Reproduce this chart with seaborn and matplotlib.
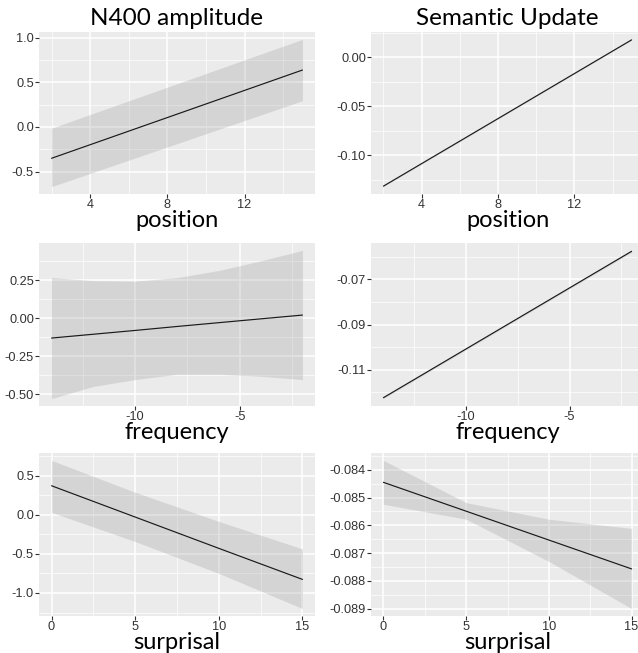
import matplotlib
matplotlib.use("Agg")
import matplotlib.pyplot as plt
from matplotlib.ticker import AutoMinorLocator
import seaborn as sns

# Effect estimates: x, fit, lower, upper per panel.
# N400 amplitude
n400_pos_x = [2, 15]
n400_pos_fit = [-0.35, 0.637]
n400_pos_lo = [-0.667, 0.294]
n400_pos_hi = [-0.013, 0.98]

n400_freq_x = [-14, -12, -10, -8, -6, -4, -2]
n400_freq_fit = [-0.129, -0.104, -0.079, -0.053, -0.028, -0.003, 0.022]
n400_freq_lo = [-0.527, -0.447, -0.402, -0.367, -0.367, -0.380, -0.402]
n400_freq_hi = [0.269, 0.248, 0.245, 0.268, 0.315, 0.378, 0.447]

n400_surp_x = [0, 5, 10, 15]
n400_surp_fit = [0.37, -0.03, -0.43, -0.827]
n400_surp_lo = [0.030, -0.343, -0.75, -1.20]
n400_surp_hi = [0.694, 0.287, -0.086, -0.437]

# Semantic Update
sem_pos_x = [2, 15]
sem_pos_fit = [-0.1312, 0.0176]
sem_pos_lo = [-0.1317, 0.0171]
sem_pos_hi = [-0.1307, 0.0181]

sem_freq_x = [-14, -2]
sem_freq_fit = [-0.1223, -0.0577]
sem_freq_lo = [-0.1227, -0.0581]
sem_freq_hi = [-0.1219, -0.0573]

sem_surp_x = [0, 5, 10, 15]
sem_surp_fit = [-0.08445, -0.08549, -0.08653, -0.08757]
sem_surp_lo = [-0.08524, -0.08578, -0.08730, -0.08900]
sem_surp_hi = [-0.08366, -0.08518, -0.08578, -0.08611]

# Tick positions and labels
pos_ticks = [4, 8, 12]
freq_ticks = [-10, -5]
surp_ticks = [0, 5, 10, 15]
n400_yticks = [[-0.5, 0.0, 0.5, 1.0], [-0.5, -0.25, 0.0, 0.25], [-1.0, -0.5, 0.0, 0.5]]
n400_ylabels = [["-0.5", "0.0", "0.5", "1.0"], ["-0.50", "-0.25", "0.00", "0.25"],
                ["-1.0", "-0.5", "0.0", "0.5"]]
sem_yticks = [[-0.10, -0.05, 0.00], [-0.11, -0.09, -0.07],
              [-0.089, -0.088, -0.087, -0.086, -0.085, -0.084]]
sem_ylabels = [["-0.10", "-0.05", "0.00"], ["-0.11", "-0.09", "-0.07"],
               ["-0.089", "-0.088", "-0.087", "-0.086", "-0.085", "-0.084"]]

titles = ["N400 amplitude", "Semantic Update"]
xlabels = ["position", "frequency", "surprisal"]

sns.set_theme(style="darkgrid", rc={
    "axes.facecolor": "#EBEBEB",
    "grid.color": "white",
    "axes.edgecolor": "#EBEBEB",
    "xtick.bottom": True,
    "ytick.left": True,
})
plt.rcParams["font.family"] = ["Liberation Sans", "DejaVu Sans"]

W, H = 638, 653
fig = plt.figure(figsize=(W / 100, H / 100), dpi=100)

col_x = [(39, 315), (371, 644)]
row_y = [(32, 194), (243, 406), (453, 616)]

panels = [
    [(n400_pos_x, n400_pos_fit, n400_pos_lo, n400_pos_hi),
     (n400_freq_x, n400_freq_fit, n400_freq_lo, n400_freq_hi),
     (n400_surp_x, n400_surp_fit, n400_surp_lo, n400_surp_hi)],
    [(sem_pos_x, sem_pos_fit, sem_pos_lo, sem_pos_hi),
     (sem_freq_x, sem_freq_fit, sem_freq_lo, sem_freq_hi),
     (sem_surp_x, sem_surp_fit, sem_surp_lo, sem_surp_hi)],
]
xticks = [pos_ticks, freq_ticks, surp_ticks]
yticks = [n400_yticks, sem_yticks]
ylabels = [n400_ylabels, sem_ylabels]

for c in range(2):
    for r in range(3):
        x0, x1 = col_x[c]
        y0, y1 = row_y[r]
        ax = fig.add_axes([x0 / W, 1 - y1 / H, (x1 - x0) / W, (y1 - y0) / H])
        x, fit, lo, hi = panels[c][r]
        ax.fill_between(x, lo, hi, color="#999999", alpha=0.27, linewidth=0, zorder=2)
        sns.lineplot(x=x, y=fit, ax=ax, color="#1a1a1a", linewidth=0.85, zorder=3)
        ax.margins(x=0.05, y=0.05)
        ax.set_xticks(xticks[r])
        ax.set_xticklabels([str(t) for t in xticks[r]])
        ax.set_yticks(yticks[c][r])
        ax.set_yticklabels(ylabels[c][r])
        ax.xaxis.set_minor_locator(AutoMinorLocator(2))
        ax.yaxis.set_minor_locator(AutoMinorLocator(2))
        ax.grid(which="major", color="white", linewidth=1.1)
        ax.grid(which="minor", color="white", linewidth=0.5)
        ax.tick_params(which="major", length=2.6, width=0.8, color="#333333",
                       labelsize=9.2, labelcolor="#333333", pad=1)
        ax.tick_params(which="minor", length=0)
        for s in ax.spines.values():
            s.set_visible(False)
        ax.set_xlabel(xlabels[r], family=["Lato", "DejaVu Sans"], fontsize=17,
                      color="black", labelpad=-1)
        ax.set_ylabel("")
        if r == 0:
            ax.set_title(titles[c], family=["Lato", "DejaVu Sans"], fontsize=17.5,
                         color="black", pad=5)

fig.savefig("out.png", dpi=100)
